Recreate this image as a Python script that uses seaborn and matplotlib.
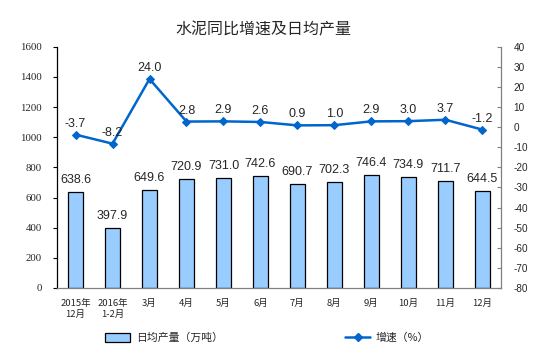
import matplotlib
matplotlib.use("Agg")
import matplotlib.pyplot as plt
import seaborn as sns
import pandas as pd
import numpy as np
from matplotlib.patches import Patch
from matplotlib.lines import Line2D

categories = ["2015年\n12月", "2016年\n1-2月", "3月", "4月", "5月", "6月", "7月", "8月", "9月", "10月", "11月", "12月"]
output = [638.6, 397.9, 649.6, 720.9, 731.0, 742.6, 690.7, 702.3, 746.4, 734.9, 711.7, 644.5]
growth = [-3.7, -8.2, 24.0, 2.8, 2.9, 2.6, 0.9, 1.0, 2.9, 3.0, 3.7, -1.2]
left_ticks = [0, 200, 400, 600, 800, 1000, 1200, 1400, 1600]
right_ticks = [-80, -70, -60, -50, -40, -30, -20, -10, 0, 10, 20, 30, 40]

sns.set_theme(style="white")
plt.rcParams['font.family'] = ['Noto Sans CJK SC', 'DejaVu Sans']
plt.rcParams['axes.unicode_minus'] = False

df = pd.DataFrame({"cat": categories, "output": output, "growth": growth})

fig = plt.figure(figsize=(5.54, 3.52), dpi=100)
ax = fig.add_axes([0.103, 0.182, 0.801, 0.685])
sns.barplot(data=df, x="cat", y="output", ax=ax, color="#99CCFF", edgecolor="black",
            linewidth=0.9, width=0.4, saturation=1)
ax.set_xlim(-0.5, len(categories) - 0.5)
ax.set_ylim(0, 1600)
ax.set_yticks(left_ticks)
ax.set_yticklabels([str(t) for t in left_ticks], fontsize=7.8, family=['Liberation Serif'])
ax.set_xticks(range(len(categories)))
ax.set_xticklabels(categories, fontsize=6.8)
ax.tick_params(axis='x', length=0, pad=8)
ax.set_xticks(np.arange(-0.5, len(categories), 1), minor=True)
ax.tick_params(axis='x', which='minor', direction='in', length=3, color='#808080', width=0.8)
ax.tick_params(axis='y', direction='out', length=3, color='black', width=0.8, left=True, pad=8)
ax.set_xlabel("")
ax.set_ylabel("")
for s in ["top", "right"]:
    ax.spines[s].set_visible(False)
ax.spines["left"].set_color("black")
ax.spines["left"].set_linewidth(0.9)
ax.spines["bottom"].set_color("#808080")
ax.spines["bottom"].set_linewidth(0.9)

for i, v in enumerate(output):
    ax.text(i, v + 40, f"{v:.1f}", ha="center", va="bottom", fontsize=9,
            family=['Liberation Sans'])

ax2 = ax.twinx()
sns.lineplot(x=np.arange(len(categories)), y=growth, ax=ax2, color="#0066CC",
             marker="D", markersize=4, linewidth=1.8, markeredgecolor="#0066CC")
ax2.set_ylim(-80, 40)
ax2.set_yticks(right_ticks)
ax2.set_yticklabels([str(t) for t in right_ticks], fontsize=7.2, family=['Liberation Sans'])
ax2.tick_params(axis='y', direction='in', length=3, color='#808080', width=0.8, right=True, pad=9)
for s in ["top", "left", "bottom"]:
    ax2.spines[s].set_visible(False)
ax2.spines["right"].set_color("#808080")
ax2.spines["right"].set_linewidth(0.9)
ax2.set_ylabel("")

for i, v in enumerate(growth):
    ax2.text(i, v + 2.5, f"{v:.1f}", ha="center", va="bottom", fontsize=9,
             family=['Liberation Sans'])

fig.text(0.475, 0.915, "水泥同比增速及日均产量", ha="center", va="center", fontsize=11.5)

handles = [Patch(facecolor="#99CCFF", edgecolor="black", linewidth=0.9),
           Line2D([0], [0], color="#0066CC", marker="D", markersize=4, linewidth=1.8)]
fig.legend(handles, ["日均产量（万吨）", "增速（%）"], loc="center", bbox_to_anchor=(0.482, 0.04),
           ncol=2, frameon=False, fontsize=7.8, columnspacing=11.3, handlelength=2.3,
           handletextpad=0.5, handleheight=0.8)

fig.savefig("out.png", dpi=100)
